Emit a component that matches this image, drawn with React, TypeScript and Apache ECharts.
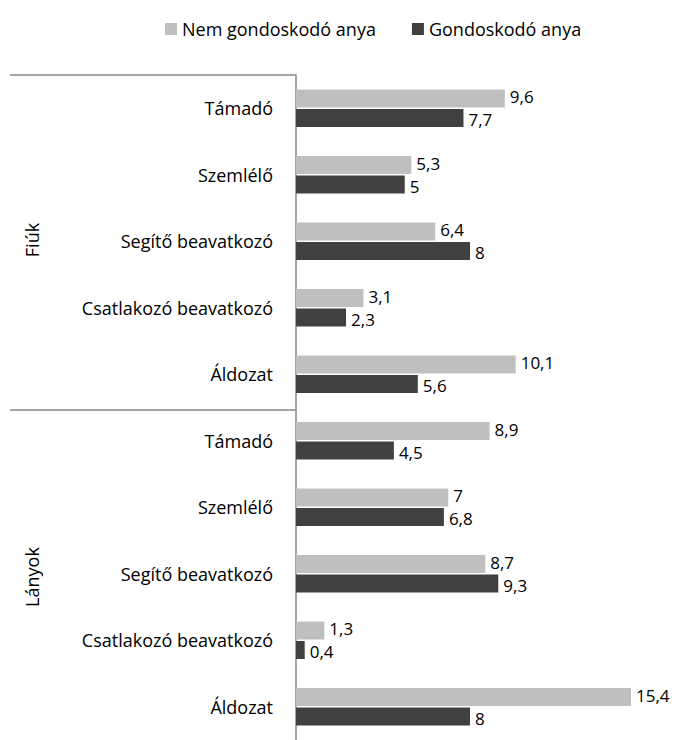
import React, { useEffect, useRef } from "react";
import * as echarts from "echarts";

const groups = ["Fiúk", "Lányok"];
const roles = ["Támadó", "Szemlélő", "Segítő beavatkozó", "Csatlakozó beavatkozó", "Áldozat"];
const categories = groups.flatMap((g) => roles.map((r) => g + "|" + r));
const seriesNames = ["Nem gondoskodó anya", "Gondoskodó anya"];
const nemGondoskodo = [9.6, 5.3, 6.4, 3.1, 10.1, 8.9, 7, 8.7, 1.3, 15.4];
const gondoskodo = [7.7, 5, 8, 2.3, 5.6, 4.5, 6.8, 9.3, 0.4, 8];

const FONT = "'Open Sans', 'Noto Sans', sans-serif";
const FS = 18;
const LFS = 17;

export default function App() {
  const ref = useRef<HTMLDivElement>(null);
  useEffect(() => {
    const chart = echarts.init(ref.current!, null, { renderer: "svg" });
    const fmt = (p: any) => String(p.value).replace(".", ",");
    chart.setOption({
      animation: false,
      textStyle: { fontFamily: FONT },
      legend: {
        top: 15,
        left: 160,
        itemWidth: 12,
        itemHeight: 12,
        itemGap: 36,
        icon: "rect",
        textStyle: { fontSize: FS, color: "#000", fontFamily: FONT },
        data: seriesNames,
      },
      grid: { left: 296, right: 32, top: 75, bottom: -5, containLabel: false },
      xAxis: {
        type: "value",
        min: 0,
        max: 16,
        show: false,
      },
      yAxis: {
        type: "category",
        inverse: true,
        data: categories,
        axisLine: { show: true, lineStyle: { color: "#888", width: 1.5 } },
        axisTick: { show: false },
        axisLabel: {
          margin: 23,
          fontSize: FS,
          color: "#000",
          fontFamily: FONT,
          formatter: (v: string) => v.split("|")[1],
        },
      },
      series: [
        {
          name: seriesNames[0],
          type: "bar",
          data: nemGondoskodo,
          barWidth: 18,
          barGap: "8%",
          itemStyle: { color: "#BFBFBF" },
          label: { show: true, position: "right", distance: 5, offset: [0, -2], fontSize: LFS, lineHeight: 16, color: "#000", fontFamily: FONT, formatter: fmt },
        },
        {
          name: seriesNames[1],
          type: "bar",
          data: gondoskodo,
          barWidth: 18,
          itemStyle: { color: "#404040" },
          label: { show: true, position: "right", distance: 5, offset: [0, 2], fontSize: LFS, lineHeight: 16, color: "#000", fontFamily: FONT, formatter: fmt },
        },
      ],
      graphic: [
        { type: "line", shape: { x1: 10, y1: 75, x2: 296, y2: 75 }, style: { stroke: "#888", lineWidth: 1.5 } },
        { type: "line", shape: { x1: 10, y1: 410, x2: 296, y2: 410 }, style: { stroke: "#888", lineWidth: 1.5 } },
        {
          type: "text",
          x: 32,
          y: 240,
          rotation: Math.PI / 2,
          style: { text: groups[0], fontSize: FS, fill: "#000", fontFamily: FONT, align: "center", verticalAlign: "middle" },
        },
        {
          type: "text",
          x: 32,
          y: 577,
          rotation: Math.PI / 2,
          style: { text: groups[1], fontSize: FS, fill: "#000", fontFamily: FONT, align: "center", verticalAlign: "middle" },
        },
      ],
    });
    return () => chart.dispose();
  }, []);
  return <div ref={ref} style={{ width: 676, height: 740, position: "absolute", left: 0, top: 0 }} />;
}
